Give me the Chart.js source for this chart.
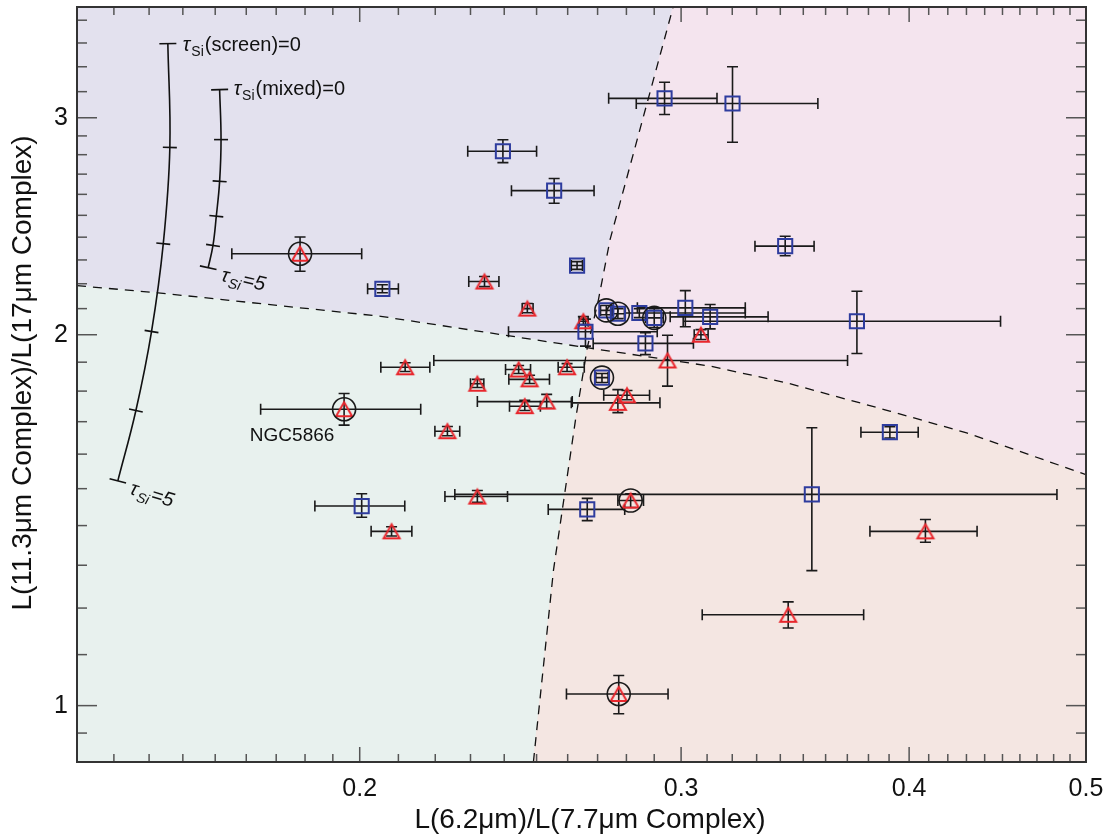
<!DOCTYPE html>
<html>
<head>
<meta charset="utf-8">
<script src="https://cdn.jsdelivr.net/npm/chart.js@4.4.0/dist/chart.umd.min.js"></script>
<style>
  html, body { margin: 0; padding: 0; background: #fff; }
  #wrap { width: 1107px; height: 834px; }
</style>
</head>
<body>
<div id="wrap"><canvas id="c" width="1107" height="834"></canvas></div>
<script>
// axis ranges and ticks (log-log)
const X_MIN = 0.14, X_MAX = 0.5, Y_MIN = 0.9, Y_MAX = 3.69;
const xMajor = [0.2, 0.3, 0.4, 0.5];
const xMinor = [0.14667, 0.15333, 0.16, 0.16667, 0.17333, 0.18, 0.18667, 0.19333,
  0.21, 0.22, 0.23, 0.24, 0.25, 0.26, 0.27, 0.28, 0.29,
  0.31, 0.32, 0.33, 0.34, 0.35, 0.36, 0.37, 0.38, 0.39,
  0.41, 0.42, 0.43, 0.44, 0.45, 0.46, 0.47, 0.48, 0.49];
const yMajor = [1, 2, 3];
const yMinor = [0.95, 1.1, 1.2, 1.3, 1.4, 1.5, 1.6, 1.7, 1.8, 1.9,
  2.1, 2.2, 2.3, 2.4, 2.5, 2.6, 2.7, 2.8, 2.9, 3.15, 3.3, 3.45, 3.6];

// blue squares
const sqX   = [0.2938, 0.3201, 0.2396, 0.2556, 0.2631, 0.2058, 0.3421, 0.2730, 0.2770, 0.2846, 0.2900, 0.3016, 0.3112, 0.2659, 0.2868, 0.3745, 0.3904, 0.3538, 0.2005, 0.2665, 0.2715];
const sqY   = [3.111, 3.081, 2.818, 2.618, 2.276, 2.179, 2.360, 2.093, 2.080, 2.083, 2.064, 2.103, 2.068, 2.011, 1.968, 2.051, 1.667, 1.484, 1.452, 1.443, 1.846];
const sqXlo = [0.2738, 0.2835, 0.2292, 0.2422, 0.2612, 0.2020, 0.3293, 0.2710, 0.2749, 0.2796, 0.2868, 0.2839, 0.2959, 0.2413, 0.2685, 0.3008, 0.3764, 0.2255, 0.1890, 0.2537, 0.2694];
const sqXhi = [0.3139, 0.3565, 0.2500, 0.2688, 0.2649, 0.2100, 0.3548, 0.2751, 0.2793, 0.3253, 0.2933, 0.3253, 0.3348, 0.2911, 0.3047, 0.4489, 0.4046, 0.4820, 0.2117, 0.2794, 0.2736];
const sqYlo = [3.018, 2.866, 2.759, 2.557, 2.260, 2.163, 2.318, 2.076, 2.061, 2.065, 2.027, 2.030, 2.022, 1.958, 1.927, 1.931, 1.649, 1.287, 1.422, 1.413, 1.829];
const sqYhi = [3.206, 3.300, 2.879, 2.678, 2.293, 2.196, 2.404, 2.112, 2.100, 2.100, 2.100, 2.172, 2.116, 2.059, 2.008, 2.169, 1.684, 1.681, 1.486, 1.473, 1.860];

// red triangles
const triX   = [0.1855, 0.2341, 0.2471, 0.2652, 0.3076, 0.2949, 0.2118, 0.2444, 0.2598, 0.2478, 0.2320, 0.2532, 0.2463, 0.2770, 0.2802, 0.2234, 0.1961, 0.2082, 0.2320, 0.2815, 0.4083, 0.3434, 0.2773];
const triY   = [2.327, 2.209, 2.100, 2.051, 2.000, 1.906, 1.882, 1.874, 1.882, 1.840, 1.825, 1.765, 1.750, 1.761, 1.786, 1.670, 1.740, 1.385, 1.478, 1.467, 1.385, 1.185, 1.022];
const triXlo = [0.1702, 0.2295, 0.2455, 0.2638, 0.3050, 0.2196, 0.2054, 0.2404, 0.2569, 0.2414, 0.2300, 0.2320, 0.2416, 0.2612, 0.2721, 0.2199, 0.1765, 0.2029, 0.2227, 0.2770, 0.3807, 0.3081, 0.2596];
const triXhi = [0.2005, 0.2384, 0.2489, 0.2668, 0.3104, 0.3701, 0.2185, 0.2481, 0.2655, 0.2541, 0.2339, 0.2615, 0.2512, 0.2921, 0.2883, 0.2269, 0.2160, 0.2136, 0.2410, 0.2861, 0.4358, 0.3777, 0.2951];
const triYlo = [2.252, 2.188, 2.084, 2.038, 1.982, 1.817, 1.867, 1.860, 1.867, 1.826, 1.812, 1.743, 1.736, 1.729, 1.771, 1.656, 1.689, 1.373, 1.462, 1.448, 1.357, 1.156, 0.985];
const triYhi = [2.401, 2.230, 2.120, 2.069, 2.019, 1.998, 1.898, 1.888, 1.895, 1.854, 1.840, 1.789, 1.769, 1.805, 1.802, 1.685, 1.792, 1.397, 1.495, 1.486, 1.416, 1.214, 1.058];

// circled sources
const circX = [0.1855, 0.1961, 0.2815, 0.2773, 0.2730, 0.2770, 0.2900, 0.2715];
const circY = [2.327, 1.740, 1.467, 1.022, 2.093, 2.080, 2.064, 1.846];

// dashed region boundaries (b1 left->right, b2 bottom->top, index 3 = crossing)
const b1X = [0.14, 0.1551, 0.2054, 0.2665, 0.3112, 0.3428, 0.3903, 0.4301, 0.5];
const b1Y = [2.192, 2.163, 2.070, 1.952, 1.886, 1.828, 1.734, 1.665, 1.540];
const b2X = [0.249, 0.2554, 0.2626, 0.2665, 0.2703, 0.2743, 0.297];
const b2Y = [0.9, 1.289, 1.707, 1.952, 2.136, 2.390, 3.69];

// extinction tracks, tau_Si = 0..5
const screenX = [0.1570, 0.1574, 0.1561, 0.1538, 0.1508, 0.1474];
const screenY = [3.446, 2.838, 2.371, 2.012, 1.736, 1.522];
const mixedX  = [0.1676, 0.1679, 0.1676, 0.1669, 0.1662, 0.1652];
const mixedY  = [3.162, 2.880, 2.664, 2.496, 2.363, 2.267];

const FONT = 'Helvetica, "Liberation Sans", Arial, sans-serif';
const pts = (xs, ys) => xs.map((x, i) => ({ x, y: ys[i] }));

function triangleImg() {
  const c = document.createElement('canvas');
  c.width = 22; c.height = 22;
  const g = c.getContext('2d');
  g.strokeStyle = '#e8262c';
  g.lineWidth = 2;
  g.beginPath();
  g.moveTo(11, 4); g.lineTo(19, 18); g.lineTo(3, 18); g.closePath();
  g.stroke();
  return c;
}

function polyPath(ctx, x, y, list) {
  ctx.beginPath();
  list.forEach((p, i) => {
    const X = x.getPixelForValue(p[0]), Y = y.getPixelForValue(p[1]);
    if (i === 0) ctx.moveTo(X, Y); else ctx.lineTo(X, Y);
  });
  ctx.closePath();
}

function errBars(ctx, x, y, xs, ys, xlo, xhi, ylo, yhi) {
  const c = 5.5;
  xs.forEach((v, i) => {
    const X = x.getPixelForValue(v), Y = y.getPixelForValue(ys[i]);
    const x1 = x.getPixelForValue(xlo[i]), x2 = x.getPixelForValue(xhi[i]);
    const y1 = y.getPixelForValue(ylo[i]), y2 = y.getPixelForValue(yhi[i]);
    ctx.beginPath();
    ctx.moveTo(x1, Y); ctx.lineTo(x2, Y);
    ctx.moveTo(x1, Y - c); ctx.lineTo(x1, Y + c);
    ctx.moveTo(x2, Y - c); ctx.lineTo(x2, Y + c);
    ctx.moveTo(X, y1); ctx.lineTo(X, y2);
    ctx.moveTo(X - c, y1); ctx.lineTo(X + c, y1);
    ctx.moveTo(X - c, y2); ctx.lineTo(X + c, y2);
    ctx.stroke();
  });
}

const regionPlugin = {
  id: 'regions',
  beforeDatasetsDraw(chart) {
    const { ctx, chartArea: a, scales: { x, y } } = chart;
    const b1 = b1X.map((v, i) => [v, b1Y[i]]);
    const b2 = b2X.map((v, i) => [v, b2Y[i]]);
    const ul = [[X_MIN, Y_MAX], ...b2.slice(3).reverse(), ...b1.slice(0, 4).reverse()];
    const ur = [...b2.slice(3), [X_MAX, Y_MAX], ...b1.slice(3).reverse()];
    const ll = [...b1.slice(0, 4), ...b2.slice(0, 4).reverse(), [X_MIN, Y_MIN]];
    const lr = [...b1.slice(3), [X_MAX, Y_MIN], ...b2.slice(0, 4)];
    ctx.save();
    ctx.beginPath();
    ctx.rect(a.left, a.top, a.right - a.left, a.bottom - a.top);
    ctx.clip();
    [[ul, '#e3e1ee'], [ur, '#f4e4ee'], [ll, '#e8f1ee'], [lr, '#f4e6e2']].forEach(([poly, col]) => {
      polyPath(ctx, x, y, poly);
      ctx.fillStyle = col;
      ctx.fill();
      ctx.strokeStyle = col;
      ctx.lineWidth = 1;
      ctx.stroke();
    });
    ctx.strokeStyle = '#1a1a1a';
    ctx.lineWidth = 1.6;
    errBars(ctx, x, y, sqX, sqY, sqXlo, sqXhi, sqYlo, sqYhi);
    errBars(ctx, x, y, triX, triY, triXlo, triXhi, triYlo, triYhi);
    ctx.restore();
  }
};

function trackTicks(ctx, x, y, xs, ys) {
  const P = xs.map((v, i) => [x.getPixelForValue(v), y.getPixelForValue(ys[i])]);
  P.forEach((p, i) => {
    const a = P[Math.max(0, i - 1)], b = P[Math.min(P.length - 1, i + 1)];
    let tx = b[0] - a[0], ty = b[1] - a[1];
    const n = Math.hypot(tx, ty);
    tx /= n; ty /= n;
    const h = (i === 0 || i === P.length - 1) ? 8.5 : 7;
    ctx.beginPath();
    ctx.moveTo(p[0] - ty * h, p[1] + tx * h);
    ctx.lineTo(p[0] + ty * h, p[1] - tx * h);
    ctx.stroke();
  });
  return P;
}

function tauLabel(ctx, x0, y0, rest, italic, angle) {
  ctx.save();
  ctx.translate(x0, y0);
  ctx.rotate(angle * Math.PI / 180);
  ctx.fillStyle = '#111';
  ctx.textAlign = 'left';
  ctx.textBaseline = 'alphabetic';
  const st = italic ? 'italic ' : '';
  ctx.font = `italic 20px ${FONT}`;
  ctx.fillText('τ', 0, 0);
  let w = ctx.measureText('τ').width + 1;
  ctx.font = `${st}14px ${FONT}`;
  ctx.fillText('Si', w, 5);
  w += ctx.measureText('Si').width + 1;
  ctx.font = `${st}20px ${FONT}`;
  ctx.fillText(rest, w, 0);
  ctx.restore();
}

const annotPlugin = {
  id: 'annot',
  afterDatasetsDraw(chart) {
    const { ctx, chartArea: a, scales: { x, y } } = chart;
    ctx.save();
    ctx.strokeStyle = '#111';
    ctx.lineWidth = 1.6;
    const S = trackTicks(ctx, x, y, screenX, screenY);
    const M = trackTicks(ctx, x, y, mixedX, mixedY);
    tauLabel(ctx, S[0][0] + 15, S[0][1] + 7, '(screen)=0', false, 0);
    tauLabel(ctx, M[0][0] + 14, M[0][1] + 5, '(mixed)=0', false, 0);
    tauLabel(ctx, M[5][0] + 12, M[5][1] + 13, '=5', true, 13);
    tauLabel(ctx, S[5][0] + 11, S[5][1] + 13, '=5', true, 17);

    // NGC5866 label next to its circled point
    ctx.fillStyle = '#111';
    ctx.font = `19px ${FONT}`;
    ctx.textAlign = 'center';
    ctx.textBaseline = 'middle';
    ctx.fillText('NGC5866', x.getPixelForValue(circX[1]) - 52, y.getPixelForValue(circY[1]) + 27);

    // inward ticks on all four sides
    ctx.strokeStyle = '#555';
    ctx.lineWidth = 1.5;
    const seg = (x1, y1, x2, y2) => { ctx.beginPath(); ctx.moveTo(x1, y1); ctx.lineTo(x2, y2); ctx.stroke(); };
    xMajor.concat(xMinor).forEach(v => {
      const p = x.getPixelForValue(v);
      if (p < a.left + 1 || p > a.right - 1) return;
      const len = xMajor.includes(v) ? 15 : 8;
      seg(p, a.bottom, p, a.bottom - len);
      seg(p, a.top, p, a.top + len);
    });
    yMajor.concat(yMinor).forEach(v => {
      const p = y.getPixelForValue(v);
      if (p < a.top + 1 || p > a.bottom - 1) return;
      const len = yMajor.includes(v) ? 20 : 10;
      seg(a.left, p, a.left + len, p);
      seg(a.right, p, a.right - len, p);
    });
    ctx.strokeStyle = '#333';
    ctx.lineWidth = 2;
    ctx.strokeRect(a.left, a.top, a.right - a.left, a.bottom - a.top);

    // axis titles
    ctx.fillStyle = '#111';
    ctx.font = `28px ${FONT}`;
    ctx.textAlign = 'center';
    ctx.textBaseline = 'middle';
    ctx.fillText('L(6.2μm)/L(7.7μm Complex)', 590, 820);
    ctx.translate(23, 373);
    ctx.rotate(-Math.PI / 2);
    ctx.fillText('L(11.3μm Complex)/L(17μm Complex)', 0, 0);
    ctx.restore();
  }
};

const lineDs = (xs, ys, dash, width) => ({
  data: pts(xs, ys), showLine: true, pointRadius: 0, borderColor: '#111',
  borderWidth: width, borderDash: dash, tension: dash.length ? 0 : 0.4, fill: false
});

// drop the edge padding Chart.js reserves for end labels, so the plot box is set by layout.padding
const noEdgePad = s => { s.paddingLeft = 0; s.paddingRight = 0; s.paddingTop = 0; s.paddingBottom = 0; };

new Chart(document.getElementById('c'), {
  type: 'scatter',
  data: {
    datasets: [
      { data: pts(circX, circY), pointStyle: 'circle', pointRadius: 11.5, borderColor: '#1a1a1a', borderWidth: 1.6, backgroundColor: 'rgba(0,0,0,0)' },
      { data: pts(sqX, sqY), pointStyle: 'rect', pointRadius: 10, borderColor: '#2e3c9e', borderWidth: 2, backgroundColor: 'rgba(0,0,0,0)' },
      { data: pts(triX, triY), pointStyle: triangleImg(), pointRadius: 9 },
      lineDs(b1X, b1Y, [9, 7], 1.3),
      lineDs(b2X, b2Y, [9, 7], 1.3),
      lineDs(screenX, screenY, [], 1.6),
      lineDs(mixedX, mixedY, [], 1.6)
    ]
  },
  options: {
    responsive: false,
    animation: false,
    layout: { autoPadding: false, padding: { top: 7, right: 21, left: 0, bottom: 0 } },
    plugins: { legend: { display: false }, tooltip: { enabled: false } },
    scales: {
      x: {
        type: 'logarithmic', min: X_MIN, max: X_MAX,
        afterBuildTicks: s => { s.ticks = xMajor.map(v => ({ value: v })); },
        afterFit: s => { s.height = 72; noEdgePad(s); },
        grid: { display: false, drawTicks: false },
        border: { display: false },
        ticks: { color: '#111', font: { family: FONT, size: 25 }, padding: 12, maxRotation: 0, autoSkip: false,
                 callback: v => xMajor.includes(v) ? String(v) : '' }
      },
      y: {
        type: 'logarithmic', min: Y_MIN, max: Y_MAX,
        afterBuildTicks: s => { s.ticks = yMajor.map(v => ({ value: v })); },
        afterFit: s => { s.width = 77; noEdgePad(s); },
        grid: { display: false, drawTicks: false },
        border: { display: false },
        ticks: { color: '#111', font: { family: FONT, size: 25 }, padding: 9, autoSkip: false,
                 callback: v => yMajor.includes(v) ? String(v) : '' }
      }
    }
  },
  plugins: [regionPlugin, annotPlugin]
});
</script>
</body>
</html>
